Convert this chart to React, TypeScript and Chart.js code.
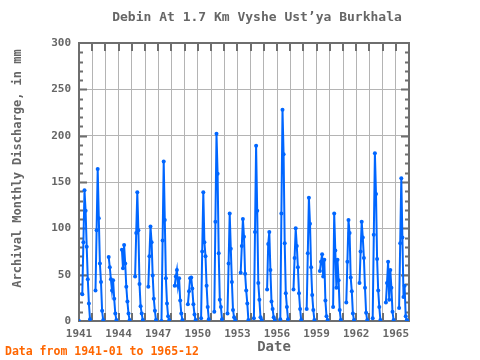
import React, { useEffect, useRef } from "react";
import { Chart, registerables } from "chart.js";

Chart.register(...registerables);

// Years of record and the April..November values of each year (mm)
const years = [
  1941, 1942, 1943, 1944, 1945, 1946, 1947, 1948, 1949, 1950, 1951, 1952, 1953,
  1954, 1955, 1956, 1957, 1958, 1959, 1960, 1961, 1962, 1963, 1964, 1965,
];
const seasonMonths = [3, 4, 5, 6, 7, 8, 9, 10]; // Apr..Nov (0-based month index)
const aprToNov: number[][] = [
  [29, 85, 141, 119, 80, 45, 19, 2],
  [33, 98, 164, 111, 62, 42, 11, 1],
  [69, 58, 45, 33, 44, 24, 8, 1],
  [77, 57, 82, 62, 37, 21, 8, 1],
  [48, 95, 139, 98, 40, 16, 8, 1],
  [37, 70, 102, 85, 49, 24, 11, 1],
  [0, 87, 172, 109, 46, 19, 5, 1],
  [38, 48, 55, 38, 46, 22, 8, 1],
  [18, 32, 46, 47, 35, 18, 7, 1],
  [3, 75, 139, 85, 70, 38, 15, 2],
  [10, 107, 202, 159, 73, 23, 15, 2],
  [8, 62, 116, 78, 42, 12, 4, 1],
  [52, 81, 110, 91, 51, 33, 19, 1],
  [3, 96, 189, 119, 41, 23, 4, 1],
  [34, 83, 96, 55, 21, 13, 4, 1],
  [2, 116, 228, 180, 84, 30, 15, 2],
  [34, 68, 100, 81, 58, 30, 13, 1],
  [13, 73, 133, 105, 58, 28, 12, 1],
  [54, 64, 72, 48, 66, 22, 5, 1],
  [15, 116, 76, 36, 66, 44, 12, 1],
  [20, 64, 109, 95, 47, 32, 8, 1],
  [41, 75, 107, 90, 68, 36, 9, 1],
  [3, 93, 181, 137, 67, 33, 15, 1],
  [20, 41, 64, 23, 55, 36, 10, 1],
  [14, 84, 154, 90, 26, 38, 5, 1],
];
// Isolated values at the ends of the record
const jan1941 = 0;
const dec1965 = 0;

const xTickLabels = ["1941", "1944", "1947", "1950", "1953", "1956", "1959", "1962", "1965"];
const yTicks = [0, 50, 100, 150, 200, 250, 300];

const TITLE = "Debin At 1.7 Km Vyshe Ust\u2019ya Burkhala";
const Y_TITLE = "Archival Monthly Discharge, in mm";
const X_TITLE = "Date";
const NOTE = "Data from 1941-01 to 1965-12";

const MONO = "'DejaVu Sans Mono', 'Liberation Mono', monospace";
const GRAY = "#666666";
const FRAME = "#6e6e6e";
const BLUE = "#0066ff";

function buildPoints() {
  const pts: { x: number; y: number | null }[] = [];
  years.forEach((yr, yi) => {
    for (let m = 0; m < 12; m++) {
      let v: number | null = null;
      const si = seasonMonths.indexOf(m);
      if (si >= 0) v = aprToNov[yi][si];
      if (yi === 0 && m === 0) v = jan1941;
      if (yi === years.length - 1 && m === 11) v = dec1965;
      pts.push({ x: yr + m / 12, y: v });
    }
  });
  return pts;
}

const framePlugin = {
  id: "frameTicks",
  beforeDatasetsDraw(chart: any) {
    const { ctx, chartArea } = chart;
    const { left, right, top, bottom } = chartArea;
    const xs = chart.scales.x;
    const ys = chart.scales.y;
    ctx.save();
    ctx.strokeStyle = FRAME;
    ctx.lineWidth = 2;
    for (let yr = years[0] + 1; yr <= years[years.length - 1]; yr++) {
      const px = Math.round(xs.getPixelForValue(yr));
      ctx.beginPath();
      ctx.moveTo(px, top);
      ctx.lineTo(px, top + 8);
      ctx.moveTo(px, bottom);
      ctx.lineTo(px, bottom - 8);
      ctx.stroke();
    }
    for (let v = 10; v < 300; v += 10) {
      const py = Math.round(ys.getPixelForValue(v)) + 0.5;
      const len = v % 50 === 0 ? 8 : 4;
      ctx.beginPath();
      ctx.moveTo(left, py);
      ctx.lineTo(left + len, py);
      ctx.moveTo(right, py);
      ctx.lineTo(right - len, py);
      ctx.stroke();
    }
    ctx.strokeRect(left, top, right - left, bottom - top);
    ctx.restore();
  },
  afterDraw(chart: any) {
    const { ctx } = chart;
    ctx.save();
    ctx.fillStyle = GRAY;
    ctx.textAlign = "center";
    ctx.textBaseline = "middle";
    ctx.font = `bold 13px ${MONO}`;
    ctx.fillText(TITLE, 257, 18);

    ctx.font = `bold 14px ${MONO}`;
    ctx.fillText(X_TITLE, 274, 347);

    ctx.save();
    ctx.translate(17.5, 168.5);
    ctx.rotate(-Math.PI / 2);
    ctx.font = `bold 12px ${MONO}`;
    ctx.fillText(Y_TITLE, 0, 0);
    ctx.restore();

    ctx.textAlign = "left";
    ctx.fillStyle = "#ff6600";
    ctx.font = `bold 11.5px ${MONO}`;
    ctx.fillText(NOTE, 5, 352);
    ctx.restore();
  },
};

export default function App() {
  const ref = useRef<HTMLCanvasElement | null>(null);

  useEffect(() => {
    document.body.style.margin = "0";
    const canvas = ref.current;
    if (!canvas) return;
    const chart = new Chart(canvas, {
      type: "line",
      data: {
        datasets: [
          {
            label: "Discharge",
            data: buildPoints() as any,
            borderColor: BLUE,
            backgroundColor: BLUE,
            borderWidth: 2,
            pointRadius: 2,
            pointBorderWidth: 0,
            pointBackgroundColor: BLUE,
            spanGaps: false,
            tension: 0,
          },
        ],
      },
      options: {
        responsive: false,
        animation: false,
        layout: { padding: { left: 0, top: 43, right: 71, bottom: 0 } },
        plugins: {
          legend: { display: false },
          title: { display: false },
          tooltip: { enabled: false },
        },
        scales: {
          x: {
            type: "linear",
            min: years[0],
            max: years[years.length - 1] + 1,
            afterBuildTicks: (scale: any) => {
              const t = [];
              for (let yr = years[0]; yr <= years[years.length - 1] + 1; yr++) t.push({ value: yr });
              scale.ticks = t;
            },
            afterFit: (scale: any) => {
              scale.height = 39;
            },
            ticks: {
              autoSkip: false,
              maxRotation: 0,
              padding: 7,
              color: GRAY,
              font: { family: MONO, size: 11, weight: "bold" },
              callback: (v: any) => {
                const s = String(v);
                return xTickLabels.includes(s) ? s : "";
              },
            },
            grid: { color: "#b4b4b4", lineWidth: 1, drawTicks: false },
            border: { display: false },
          },
          y: {
            min: 0,
            max: 300,
            afterBuildTicks: (scale: any) => {
              scale.ticks = yTicks.map((v) => ({ value: v }));
            },
            afterFit: (scale: any) => {
              scale.width = 79;
            },
            ticks: {
              padding: 8,
              color: GRAY,
              font: { family: MONO, size: 11, weight: "bold" },
            },
            grid: { color: "#b4b4b4", lineWidth: 1, drawTicks: false },
            border: { display: false },
          },
        },
      },
      plugins: [framePlugin],
    });
    return () => chart.destroy();
  }, []);

  return <canvas ref={ref} width={480} height={360} style={{ display: "block" }} />;
}
